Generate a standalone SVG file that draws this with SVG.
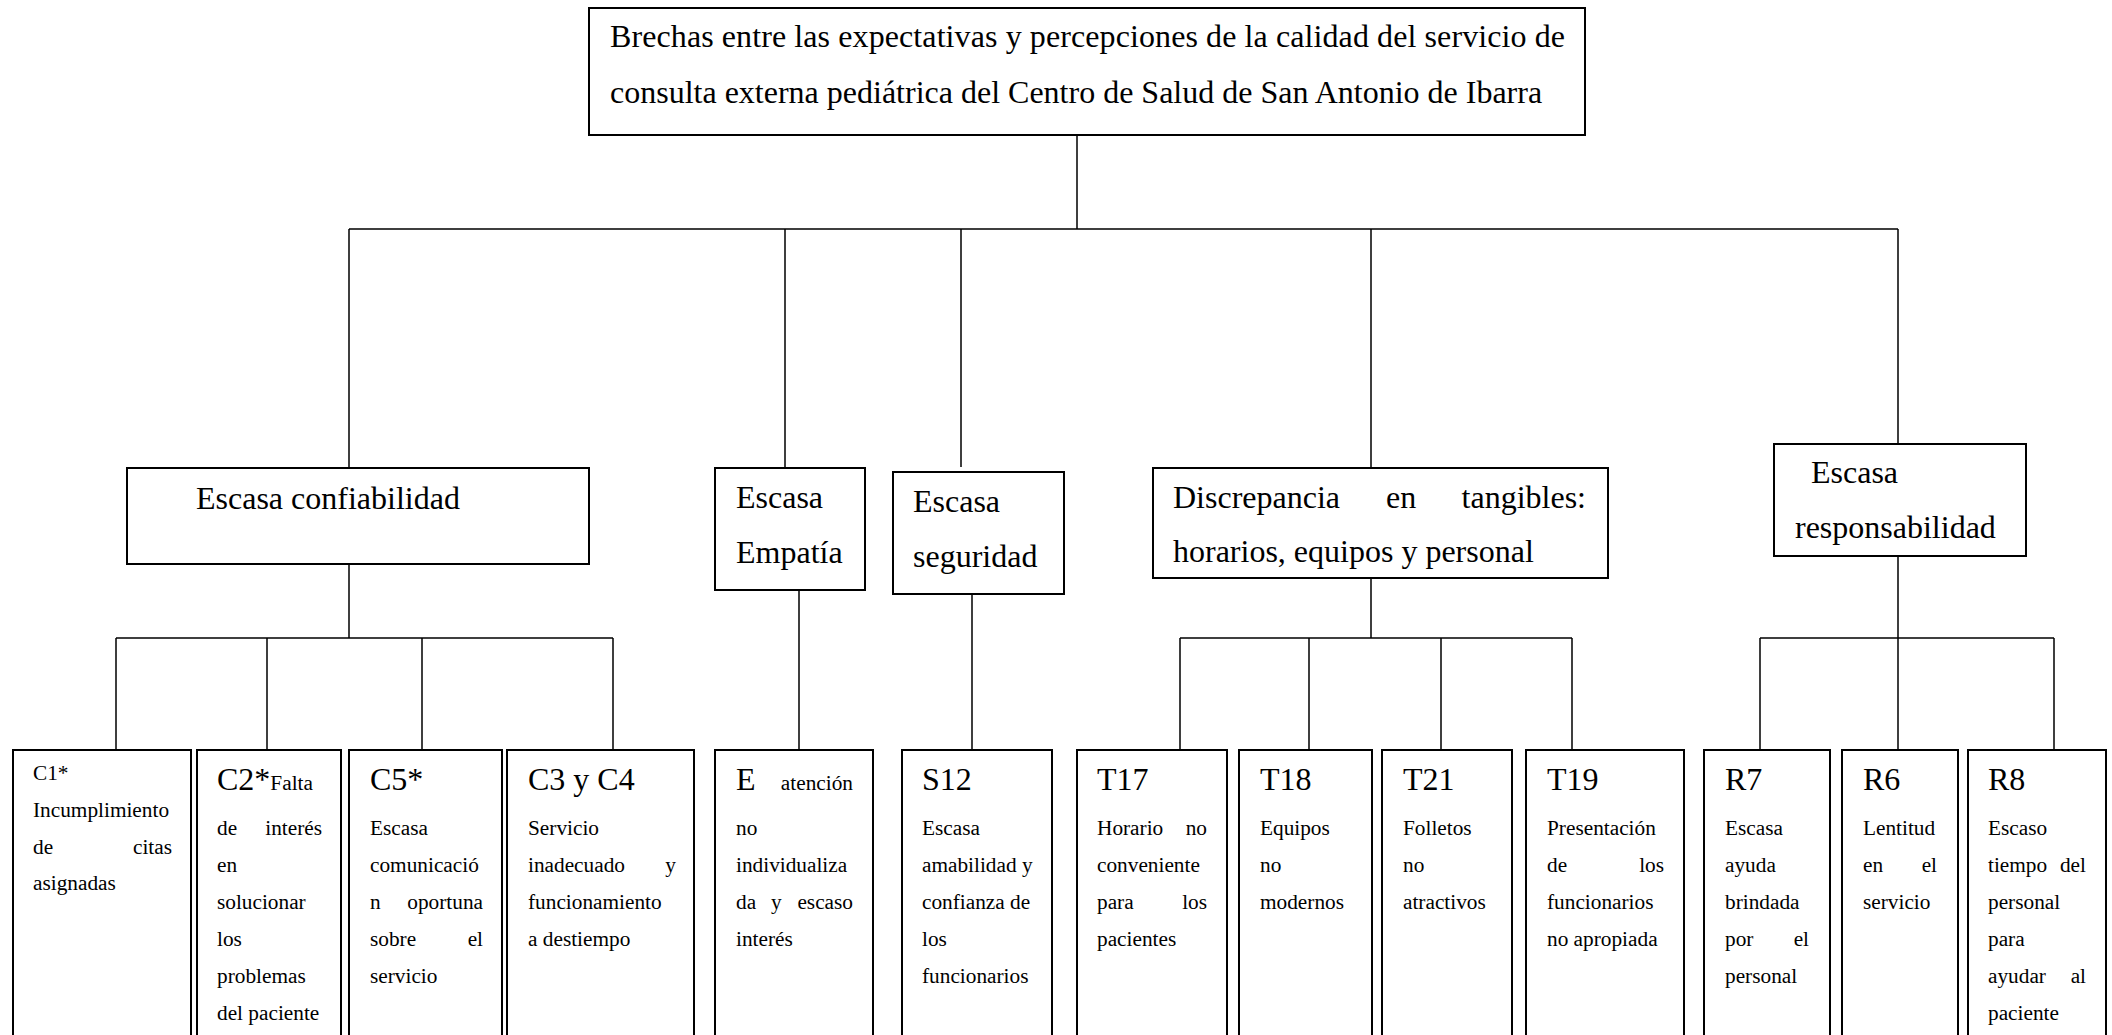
<svg xmlns="http://www.w3.org/2000/svg" width="2112" height="1035" viewBox="0 0 2112 1035">
<style>
.box{fill:#fff;stroke:#000;stroke-width:2}
.conn{fill:none;stroke:#000;stroke-width:1.5}
text{font-family:"Liberation Serif","Times New Roman",serif;fill:#000}
.big{font-size:32px}
.sm{font-size:21.3px}
.r{text-anchor:end}
</style>
<rect width="2112" height="1035" fill="#fff"/>
<g id="connectors" class="conn">
<path d="M1077 135V229M349 229H1898M349 229V468M785 229V468M961 229V467M1371 229V468M1898 229V444"/>
<path d="M349 564V638M116 638H613M116 638V750M267 638V750M422 638V750M613 638V750"/>
<path d="M799 590V750M972 590V750"/>
<path d="M1371 578V638M1180 638H1572M1180 638V750M1309 638V750M1441 638V750M1572 638V750"/>
<path d="M1898 556V638M1760 638H2054M1760 638V750M1898 638V750M2054 638V750"/>
</g>
<g id="root">
<rect class="box" x="589" y="8" width="996" height="127"/>
<text class="big" x="610" y="47" textLength="955" lengthAdjust="spacing">Brechas entre las expectativas y percepciones de la calidad del servicio de</text>
<text class="big" x="610" y="103">consulta externa pediátrica del Centro de Salud de San Antonio de Ibarra</text>
</g>
<g id="confiabilidad">
<rect class="box" x="127" y="468" width="462" height="96"/>
<text class="big" x="196" y="509">Escasa confiabilidad</text>
</g>
<g id="empatia">
<rect class="box" x="715" y="468" width="150" height="122"/>
<text class="big" x="736" y="508">Escasa</text>
<text class="big" x="736" y="563">Empatía</text>
</g>
<g id="seguridad">
<rect class="box" x="893" y="472" width="171" height="122"/>
<text class="big" x="913" y="512">Escasa</text>
<text class="big" x="913" y="567">seguridad</text>
</g>
<g id="tangibles">
<rect class="box" x="1153" y="468" width="455" height="110"/>
<text class="big" x="1173" y="508">Discrepancia</text>
<text class="big" x="1386" y="508">en</text>
<text class="big r" x="1586" y="508">tangibles:</text>
<text class="big" x="1173" y="562">horarios, equipos y personal</text>
</g>
<g id="responsabilidad">
<rect class="box" x="1774" y="444" width="252" height="112"/>
<text class="big" x="1811" y="483">Escasa</text>
<text class="big" x="1795" y="538">responsabilidad</text>
</g>
<g id="C1">
<rect class="box" x="13" y="750" width="178" height="310"/>
<text class="sm" x="33" y="780">C1*</text>
<text class="sm" x="33" y="817">Incumplimiento</text>
<text class="sm" x="33" y="854">de</text><text class="sm r" x="172" y="854">citas</text>
<text class="sm" x="33" y="890">asignadas</text>
</g>
<g id="C2">
<rect class="box" x="197" y="750" width="144" height="310"/>
<text class="big" x="217" y="790">C2*<tspan class="sm">Falta</tspan></text>
<text class="sm" x="217" y="835">de</text><text class="sm r" x="322" y="835">interés</text>
<text class="sm" x="217" y="872">en</text>
<text class="sm" x="217" y="909">solucionar</text>
<text class="sm" x="217" y="946">los</text>
<text class="sm" x="217" y="983">problemas</text>
<text class="sm" x="217" y="1020">del paciente</text>
</g>
<g id="C5">
<rect class="box" x="349" y="750" width="153" height="310"/>
<text class="big" x="370" y="790">C5*</text>
<text class="sm" x="370" y="835">Escasa</text>
<text class="sm" x="370" y="872">comunicació</text>
<text class="sm" x="370" y="909">n</text><text class="sm r" x="483" y="909">oportuna</text>
<text class="sm" x="370" y="946">sobre</text><text class="sm r" x="483" y="946">el</text>
<text class="sm" x="370" y="983">servicio</text>
</g>
<g id="C3C4">
<rect class="box" x="507" y="750" width="187" height="310"/>
<text class="big" x="528" y="790">C3 y C4</text>
<text class="sm" x="528" y="835">Servicio</text>
<text class="sm" x="528" y="872">inadecuado</text><text class="sm r" x="676" y="872">y</text>
<text class="sm" x="528" y="909">funcionamiento</text>
<text class="sm" x="528" y="946">a destiempo</text>
</g>
<g id="E">
<rect class="box" x="715" y="750" width="158" height="310"/>
<text class="big" x="736" y="790">E</text><text class="sm r" x="853" y="790">atención</text>
<text class="sm" x="736" y="835">no</text>
<text class="sm" x="736" y="872">individualiza</text>
<text class="sm" x="736" y="909">da</text><text class="sm" x="771" y="909">y</text><text class="sm r" x="853" y="909">escaso</text>
<text class="sm" x="736" y="946">interés</text>
</g>
<g id="S12">
<rect class="box" x="902" y="750" width="150" height="310"/>
<text class="big" x="922" y="790">S12</text>
<text class="sm" x="922" y="835">Escasa</text>
<text class="sm" x="922" y="872">amabilidad y</text>
<text class="sm" x="922" y="909">confianza de</text>
<text class="sm" x="922" y="946">los</text>
<text class="sm" x="922" y="983">funcionarios</text>
</g>
<g id="T17">
<rect class="box" x="1077" y="750" width="150" height="310"/>
<text class="big" x="1097" y="790">T17</text>
<text class="sm" x="1097" y="835">Horario</text><text class="sm r" x="1207" y="835">no</text>
<text class="sm" x="1097" y="872">conveniente</text>
<text class="sm" x="1097" y="909">para</text><text class="sm r" x="1207" y="909">los</text>
<text class="sm" x="1097" y="946">pacientes</text>
</g>
<g id="T18">
<rect class="box" x="1239" y="750" width="133" height="310"/>
<text class="big" x="1260" y="790">T18</text>
<text class="sm" x="1260" y="835">Equipos</text>
<text class="sm" x="1260" y="872">no</text>
<text class="sm" x="1260" y="909">modernos</text>
</g>
<g id="T21">
<rect class="box" x="1382" y="750" width="130" height="310"/>
<text class="big" x="1403" y="790">T21</text>
<text class="sm" x="1403" y="835">Folletos</text>
<text class="sm" x="1403" y="872">no</text>
<text class="sm" x="1403" y="909">atractivos</text>
</g>
<g id="T19">
<rect class="box" x="1526" y="750" width="158" height="310"/>
<text class="big" x="1547" y="790">T19</text>
<text class="sm" x="1547" y="835">Presentación</text>
<text class="sm" x="1547" y="872">de</text><text class="sm r" x="1664" y="872">los</text>
<text class="sm" x="1547" y="909">funcionarios</text>
<text class="sm" x="1547" y="946">no apropiada</text>
</g>
<g id="R7">
<rect class="box" x="1704" y="750" width="126" height="310"/>
<text class="big" x="1725" y="790">R7</text>
<text class="sm" x="1725" y="835">Escasa</text>
<text class="sm" x="1725" y="872">ayuda</text>
<text class="sm" x="1725" y="909">brindada</text>
<text class="sm" x="1725" y="946">por</text><text class="sm r" x="1809" y="946">el</text>
<text class="sm" x="1725" y="983">personal</text>
</g>
<g id="R6">
<rect class="box" x="1842" y="750" width="116" height="310"/>
<text class="big" x="1863" y="790">R6</text>
<text class="sm" x="1863" y="835">Lentitud</text>
<text class="sm" x="1863" y="872">en</text><text class="sm r" x="1937" y="872">el</text>
<text class="sm" x="1863" y="909">servicio</text>
</g>
<g id="R8">
<rect class="box" x="1968" y="750" width="138" height="310"/>
<text class="big" x="1988" y="790">R8</text>
<text class="sm" x="1988" y="835">Escaso</text>
<text class="sm" x="1988" y="872">tiempo</text><text class="sm r" x="2086" y="872">del</text>
<text class="sm" x="1988" y="909">personal</text>
<text class="sm" x="1988" y="946">para</text>
<text class="sm" x="1988" y="983">ayudar</text><text class="sm r" x="2086" y="983">al</text>
<text class="sm" x="1988" y="1020">paciente</text>
</g>
</svg>
